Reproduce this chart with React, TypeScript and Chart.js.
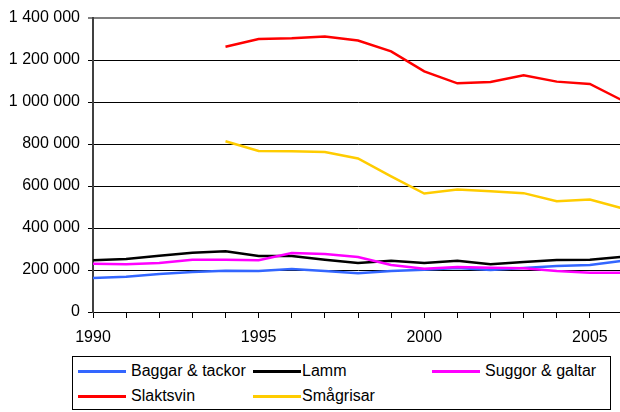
import React, { useEffect, useRef } from "react";
import { Chart, registerables } from "chart.js";

Chart.register(...registerables);

const years = [
  "1990", "1991", "1992", "1993", "1994", "1995", "1996", "1997", "1998",
  "1999", "2000", "2001", "2002", "2003", "2004", "2005", "2006",
];

const baggarTackor = [162000, 168000, 181000, 190000, 197000, 195000, 205000, 195000, 184000, 195000, 201000, 209000, 200000, 209000, 219000, 224000, 244000];
const lamm = [246000, 252000, 268000, 282000, 289000, 267000, 267000, 249000, 233000, 244000, 233000, 244000, 227000, 238000, 248000, 249000, 263000];
const suggorGaltar = [230000, 227000, 233000, 249000, 249000, 246000, 281000, 276000, 262000, 224000, 206000, 214000, 211000, 208000, 195000, 187000, 187000];
const slaktsvin = [null, null, null, null, 1263000, 1300000, 1303000, 1312000, 1293000, 1241000, 1146000, 1089000, 1095000, 1127000, 1097000, 1086000, 1006000];
const smagrisar = [null, null, null, null, 813000, 767000, 765000, 762000, 731000, 646000, 564000, 583000, 575000, 566000, 527000, 536000, 493000];

const seriesNames = ["Baggar & tackor", "Lamm", "Suggor & galtar", "Slaktsvin", "Smågrisar"];
const seriesColors = ["#3366FF", "#000000", "#FF00FF", "#FF0000", "#FFCC00"];
const seriesData = [baggarTackor, lamm, suggorGaltar, slaktsvin, smagrisar];

const yTicks = [0, 200000, 400000, 600000, 800000, 1000000, 1200000, 1400000];

const fmt = (v: number) => String(v).replace(/\B(?=(\d{3})+(?!\d))/g, " ");

const FONT = "'Liberation Sans', Arial, sans-serif";

export default function App() {
  const ref = useRef<HTMLCanvasElement | null>(null);

  useEffect(() => {
    document.body.style.margin = "0";
    document.body.style.overflow = "hidden";
    const canvas = ref.current;
    if (!canvas) return;
    const chart = new Chart(canvas, {
      type: "line",
      data: {
        labels: years,
        datasets: seriesData.map((d, i) => ({
          label: seriesNames[i],
          data: d,
          borderColor: seriesColors[i],
          backgroundColor: seriesColors[i],
          borderWidth: 2.5,
          pointRadius: 0,
          tension: 0,
          fill: false,
          spanGaps: false,
          order: seriesData.length - i,
        })),
      },
      options: {
        animation: false,
        responsive: false,
        maintainAspectRatio: false,
        layout: { padding: { left: 0, right: 17, top: 18, bottom: 0 } },
        plugins: {
          legend: { display: false },
          tooltip: { enabled: false },
        },
        scales: {
          x: {
            type: "category",
            offset: false,
            afterFit: (s: any) => {
              s.height = 38;
            },
            border: { display: true, color: "#000000", width: 1 },
            grid: {
              display: true,
              drawOnChartArea: false,
              drawTicks: true,
              tickLength: 6,
              color: "#000000",
            },
            ticks: {
              autoSkip: false,
              maxRotation: 0,
              minRotation: 0,
              padding: 10,
              color: "#000000",
              font: { family: FONT, size: 16 },
              callback: (_v: any, idx: number) => {
                const y = Number(years[idx]);
                return y % 5 === 0 && idx < years.length - 1 ? years[idx] : "";
              },
            },
          },
          y: {
            min: yTicks[0],
            max: yTicks[yTicks.length - 1],
            afterFit: (s: any) => {
              s.width = 93;
            },
            afterBuildTicks: (s: any) => {
              s.ticks = yTicks.map((v) => ({ value: v }));
            },
            border: { display: true, color: "#404040", width: 2 },
            grid: {
              drawTicks: true,
              tickLength: 5,
              color: (c: any) => (c.tick && c.tick.value === 1400000 ? "#808080" : "#000000"),
              lineWidth: (c: any) => (c.tick && c.tick.value === 1400000 ? 2 : 1),
            },
            ticks: {
              padding: 8,
              color: "#000000",
              font: { family: FONT, size: 16 },
              callback: (v: any) => fmt(Number(v)),
            },
          },
        },
      },
    });
    return () => chart.destroy();
  }, []);

  const legendCols = [
    { line: 78, text: 131 },
    { line: 253, text: 302 },
    { line: 432, text: 485 },
  ];
  const rowY = [371, 396];

  return (
    <div style={{ position: "relative", width: 640, height: 412, fontFamily: FONT }}>
      <canvas ref={ref} width={640} height={350} style={{ position: "absolute", left: 0, top: 0 }} />
      <div
        style={{
          position: "absolute",
          left: 72,
          top: 356,
          width: 539,
          height: 54,
          border: "1px solid #000",
          boxSizing: "border-box",
        }}
      />
      {seriesNames.map((name, i) => {
        const col = legendCols[i % 3];
        const y = rowY[Math.floor(i / 3)];
        return (
          <React.Fragment key={name}>
            <div
              style={{
                position: "absolute",
                left: col.line,
                top: y - 1.5,
                width: 48,
                height: 3,
                background: seriesColors[i],
              }}
            />
            <div
              style={{
                position: "absolute",
                left: col.text,
                top: y - 10,
                height: 20,
                lineHeight: "20px",
                fontSize: 16,
                color: "#000",
                whiteSpace: "nowrap",
              }}
            >
              {name}
            </div>
          </React.Fragment>
        );
      })}
    </div>
  );
}
